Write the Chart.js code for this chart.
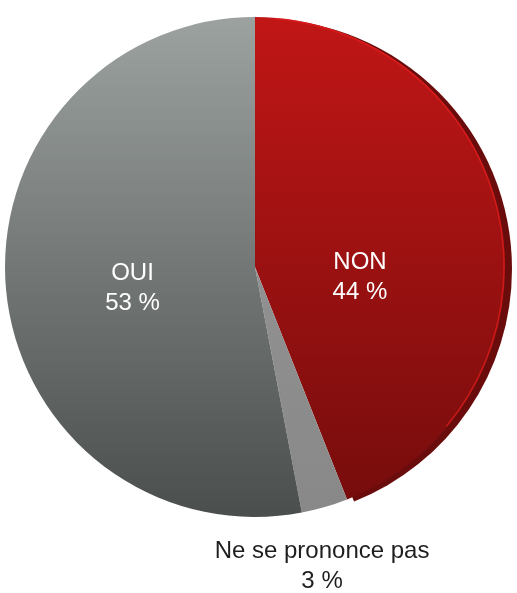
<!DOCTYPE html>
<html>
<head>
<meta charset="utf-8">
<script src="https://cdn.jsdelivr.net/npm/chart.js@4.4.1/dist/chart.umd.min.js"></script>
<style>
  html, body { margin: 0; padding: 0; background: #fff; }
  #wrap { width: 517px; height: 593px; }
</style>
</head>
<body>
<div id="wrap"><canvas id="pie" width="517" height="593"></canvas></div>
<script>
// data
const labels = ['NON', 'Ne se prononce pas', 'OUI'];
const values = [44, 3, 53];
const valueLabels = ['44 %', '3 %', '53 %'];

const FONT = '"Liberation Sans", Arial, Helvetica, sans-serif';

// top-to-bottom gradient for each slice
function sliceFill(ctx) {
    const chart = ctx.chart;
    const area = chart.chartArea;
    if (!area) return '#888';
    const g = chart.ctx.createLinearGradient(0, area.top, 0, area.bottom);
    if (ctx.dataIndex === 0) {
        g.addColorStop(0, '#c11616');
        g.addColorStop(1, '#740c0c');
    } else if (ctx.dataIndex === 1) {
        g.addColorStop(0, '#9a9a9a');
        g.addColorStop(1, '#888888');
    } else {
        g.addColorStop(0, '#9ca2a0');
        g.addColorStop(1, '#4a4e4d');
    }
    return g;
}

// dark side face behind the NON slice
const sideFace = {
    id: 'sideFace',
    beforeDatasetsDraw(chart) {
        const arc = chart.getDatasetMeta(0).data[0];
        if (!arc) return;
        const c = chart.ctx;
        c.save();
        c.beginPath();
        c.moveTo(arc.x + 7, arc.y + 2);
        c.arc(arc.x + 7, arc.y + 2, arc.outerRadius, arc.startAngle, arc.endAngle);
        c.closePath();
        c.fillStyle = '#6b0c0c';
        c.fill();
        c.restore();
    },
    afterDatasetsDraw(chart) {
        // thin bright rim on the red slice
        const arc = chart.getDatasetMeta(0).data[0];
        const c = chart.ctx;
        c.save();
        c.beginPath();
        c.arc(arc.x, arc.y, arc.outerRadius - 1, arc.startAngle + 0.08, arc.endAngle - 0.5);
        c.strokeStyle = 'rgba(230,30,30,0.7)';
        c.lineWidth = 1.5;
        c.stroke();
        c.restore();
    }
};

// slice labels
const sliceLabels = {
    id: 'sliceLabels',
    afterDraw(chart) {
        const c = chart.ctx;
        const meta = chart.getDatasetMeta(0);
        c.save();
        c.font = '24px ' + FONT;
        c.textAlign = 'center';
        c.textBaseline = 'middle';
        meta.data.forEach((arc, i) => {
            const mid = (arc.startAngle + arc.endAngle) / 2;
            let x, y, color;
            if (values[i] < 10) {
                // small slice: label outside, below the pie
                const r = arc.outerRadius + 62;
                x = arc.x + Math.cos(mid) * r - 20;
                y = arc.y + Math.sin(mid) * r;
                color = '#1e1e1e';
            } else {
                const r = arc.outerRadius * 0.46;
                x = arc.x + Math.cos(mid) * r - 8;
                y = arc.y + 18 + Math.sin(mid) * 40;
                color = '#ffffff';
            }
            c.fillStyle = color;
            c.fillText(labels[i], x, y - 15);
            c.fillText(valueLabels[i], x, y + 15);
        });
        c.restore();
    }
};

new Chart(document.getElementById('pie'), {
    type: 'pie',
    data: {
        labels: labels,
        datasets: [{
            data: values,
            backgroundColor: sliceFill,
            borderWidth: 0
        }]
    },
    options: {
        responsive: false,
        animation: false,
        layout: { padding: { left: 5, right: 12, top: 17, bottom: 76 } },
        plugins: {
            legend: { display: false },
            tooltip: { enabled: false }
        }
    },
    plugins: [sideFace, sliceLabels]
});
</script>
</body>
</html>
